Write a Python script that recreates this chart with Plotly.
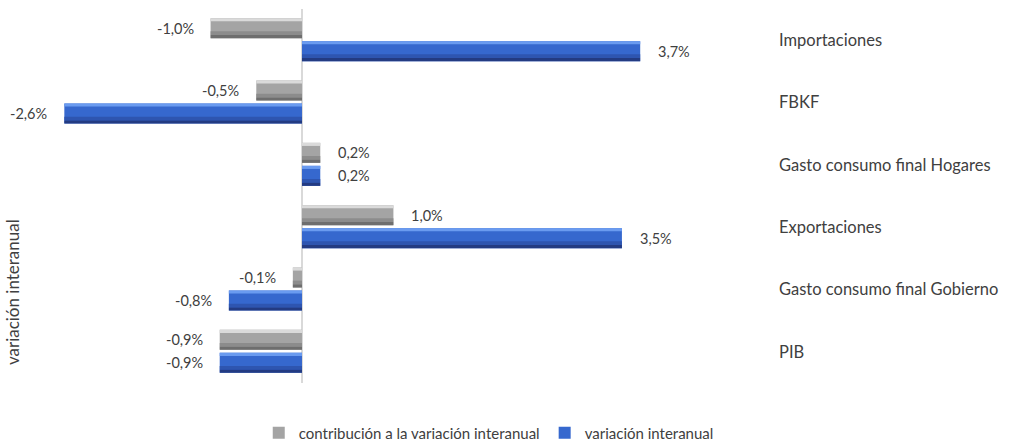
import plotly.graph_objects as go

categories = ["Importaciones", "FBKF", "Gasto consumo final Hogares", "Exportaciones",
              "Gasto consumo final Gobierno", "PIB"]
contribucion = [-1.0, -0.5, 0.2, 1.0, -0.1, -0.9]
variacion = [3.7, -2.6, 0.2, 3.5, -0.8, -0.9]
series_names = ["contribución a la variación interanual", "variación interanual"]

FONT = "Lato"
TXT = "#404040"

# bar geometry in category units (reversed axis: smaller = higher on screen)
BAR_W = 0.321
STRIP_TOP = 0.05
STRIP_MID = 0.06
STRIP_BOT = 0.05

styles = [
    # values, offset, mid colour, highlight, lower-mid, shade
    (contribucion, -0.353, "#a4a4a4", "#dadada", "#8c8c8c", "#6e6e6e"),
    (variacion, 0.016, "#3668ce", "#6a9bf0", "#2e55b0", "#233b82"),
]

fig = go.Figure()
for name, (vals, off, mid, hi, lmid, lo) in zip(series_names, styles):
    fig.add_trace(go.Bar(y=categories, x=vals, orientation="h", name=name,
                         offset=off, width=BAR_W, marker=dict(color=mid, line=dict(width=0))))
    fig.add_trace(go.Bar(y=categories, x=vals, orientation="h", showlegend=False, hoverinfo="skip",
                         offset=off, width=STRIP_TOP, marker=dict(color=hi, line=dict(width=0))))
    fig.add_trace(go.Bar(y=categories, x=vals, orientation="h", showlegend=False, hoverinfo="skip",
                         offset=off + BAR_W - STRIP_BOT - STRIP_MID, width=STRIP_MID,
                         marker=dict(color=lmid, line=dict(width=0))))
    fig.add_trace(go.Bar(y=categories, x=vals, orientation="h", showlegend=False, hoverinfo="skip",
                         offset=off + BAR_W - STRIP_BOT, width=STRIP_BOT,
                         marker=dict(color=lo, line=dict(width=0))))

def fmt(v):
    return f"{v:.1f}".replace(".", ",") + "%"

for vals, ysh in ((contribucion, 12), (variacion, -11)):
    for c, v in zip(categories, vals):
        fig.add_annotation(x=v, y=c, text=fmt(v), showarrow=False,
                           xanchor="left" if v >= 0 else "right",
                           xshift=16 if v >= 0 else -15, yshift=ysh,
                           font=dict(family=FONT, size=14.5, color=TXT))

fig.add_annotation(x=-0.0107, y=0.243, xref="paper", yref="paper", text="variación interanual",
                   xanchor="center", yanchor="middle",
                   textangle=-90, showarrow=False, font=dict(family=FONT, size=17, color=TXT))

fig.update_layout(
    width=1021, height=441,
    margin=dict(l=20, r=251, t=9, b=58, autoexpand=False),
    paper_bgcolor="white", plot_bgcolor="white",
    barmode="overlay",
    font=dict(family=FONT, size=13, color=TXT),
    xaxis=dict(range=[-3.085, 5.12], showgrid=False, showticklabels=False, ticks="",
               zeroline=True, zerolinecolor="#d9d9d9", zerolinewidth=2),
    yaxis=dict(side="right", autorange="reversed", showgrid=False, ticks="", showline=False,
               ticklabelstandoff=8, tickfont=dict(family=FONT, size=16.5, color=TXT)),
    legend=dict(orientation="h", x=0.625, y=-0.134, xanchor="center", yanchor="middle",
                font=dict(family=FONT, size=15, color=TXT), itemwidth=30, traceorder="normal"),
    showlegend=True,
)

fig.write_html("out.html", config={"displayModeBar": False},
               post_script="document.body.style.margin='0';")
